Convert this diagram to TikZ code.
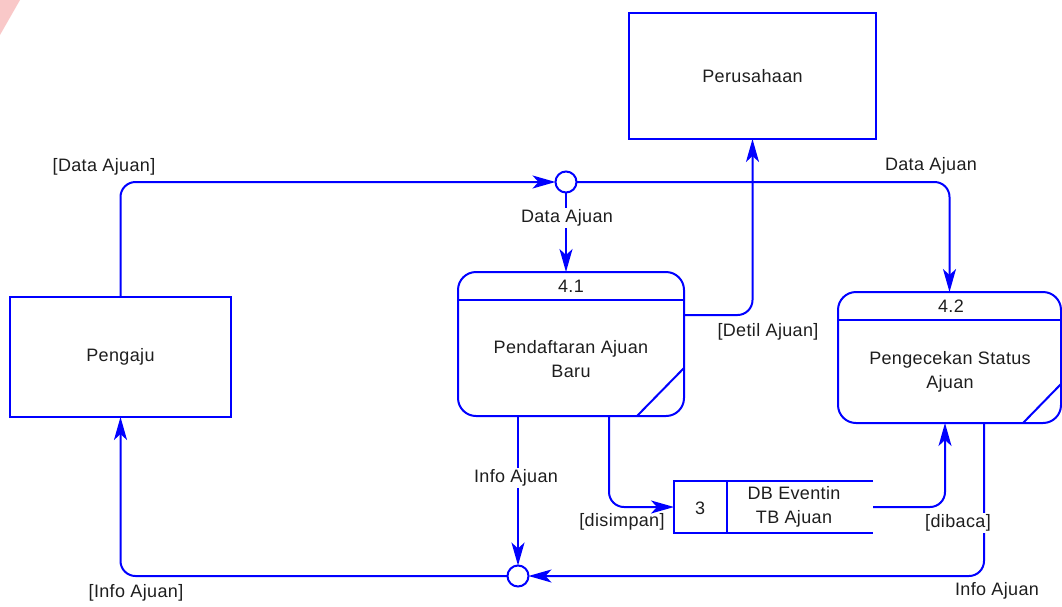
\documentclass[tikz,border=0pt]{standalone}
\usepackage{fontspec}
\setmainfont{Liberation Sans}[LetterSpace=2]
\usetikzlibrary{arrows.meta,calc}
\definecolor{dfdblue}{RGB}{0,0,255}
\definecolor{txt}{RGB}{30,30,30}
\definecolor{markpink}{RGB}{249,200,200}

\begin{document}
\begin{tikzpicture}[x=1pt,y=-1pt,
  every node/.style={font=\fontsize{18}{24}\selectfont, text=txt, inner sep=0pt, align=center, outer sep=0pt},
  line/.style={draw=dfdblue, line width=2pt},
  flow/.style={line, rounded corners=15pt, -{Stealth[length=23pt,width=13pt,inset=6pt]}},
  entity/.style={line, rectangle},
  proc/.style={line, rectangle, rounded corners=18pt},
  junction/.style={line, circle, fill=white, minimum size=21pt},
  lbl/.style={fill=white, inner sep=2pt}
]
\useasboundingbox (0,0) rectangle (1062,606);
\fill[markpink] (0,0) -- (20,0) -- (0,35) -- cycle;

% external entities
\node[entity, minimum width=221pt, minimum height=120pt] (peng) at (120.5,357) {Pengaju};
\node[entity, minimum width=247pt, minimum height=126pt] (per) at (752.5,76) {Perusahaan};

% processes
\node[proc, minimum width=226pt, minimum height=144pt] (p41) at (571,344) {};
\draw[line] (p41.west |- 0,300) -- (p41.east |- 0,300);
\draw[line] (p41.east |- 0,368) -- (p41.south -| 637,0);
\node (p41id) at (571,286) {4.1};
\node (p41txt) at (571,359.5) {Pendaftaran Ajuan\\Baru};

\node[proc, minimum width=223pt, minimum height=131pt] (p42) at (949.5,357.5) {};
\draw[line] (p42.west |- 0,320) -- (p42.east |- 0,320);
\draw[line] (p42.east |- 0,384) -- (p42.south -| 1023,0);
\node (p42id) at (951,306) {4.2};
\node (p42txt) at (950,372) {Pengecekan Status\\Ajuan};

% data store
\node[minimum width=199pt, minimum height=52pt] (store) at (773.5,507) {};
\draw[line] (store.north east) -- (store.north west) -- (store.south west) -- (store.south east);
\draw[line] ($(store.north west)+(52.7,0)$) -- ($(store.south west)+(52.7,0)$);
\node (storeid) at (700,508) {3};
\node (storetxt) at (794,507) {DB Eventin\\TB Ajuan};

% junctions
\node[junction] (j1) at (566,182) {};
\node[junction] (j2) at (518,576) {};

% data flows
\draw[flow] (peng.north) |- (j1.west);
\node (l1) at (104,167) {[Data Ajuan]};
\draw[flow] (j1.east) -| (p42.north);
\node (l2) at (931,166) {Data Ajuan};
\draw[flow] (j1.south) -- (j1.south |- p41.north);
\node[lbl] (l3) at (567,218) {Data Ajuan};
\draw[flow] (p41.east |- 0,315) -| (per.south);
\node (l4) at (768,332) {[Detil Ajuan]};
\draw[flow] (p41.south -| 518,0) -- (j2.north);
\node[lbl] (l5) at (516,478) {Info Ajuan};
\draw[flow] (p41.south -| 609,0) |- (store.west);
\node (l6) at (622,522) {[disimpan]};
\draw[flow] (p42.south -| 984,0) |- (j2.east);
\node (l7) at (997,591) {Info Ajuan};
\draw[flow] (store.east) -| (p42.south -| 945,0);
\node[lbl] (l8) at (958,523) {[dibaca]};
\draw[flow] (j2.west) -| (peng.south);
\node (l9) at (136,593) {[Info Ajuan]};
\end{tikzpicture}
\end{document}
